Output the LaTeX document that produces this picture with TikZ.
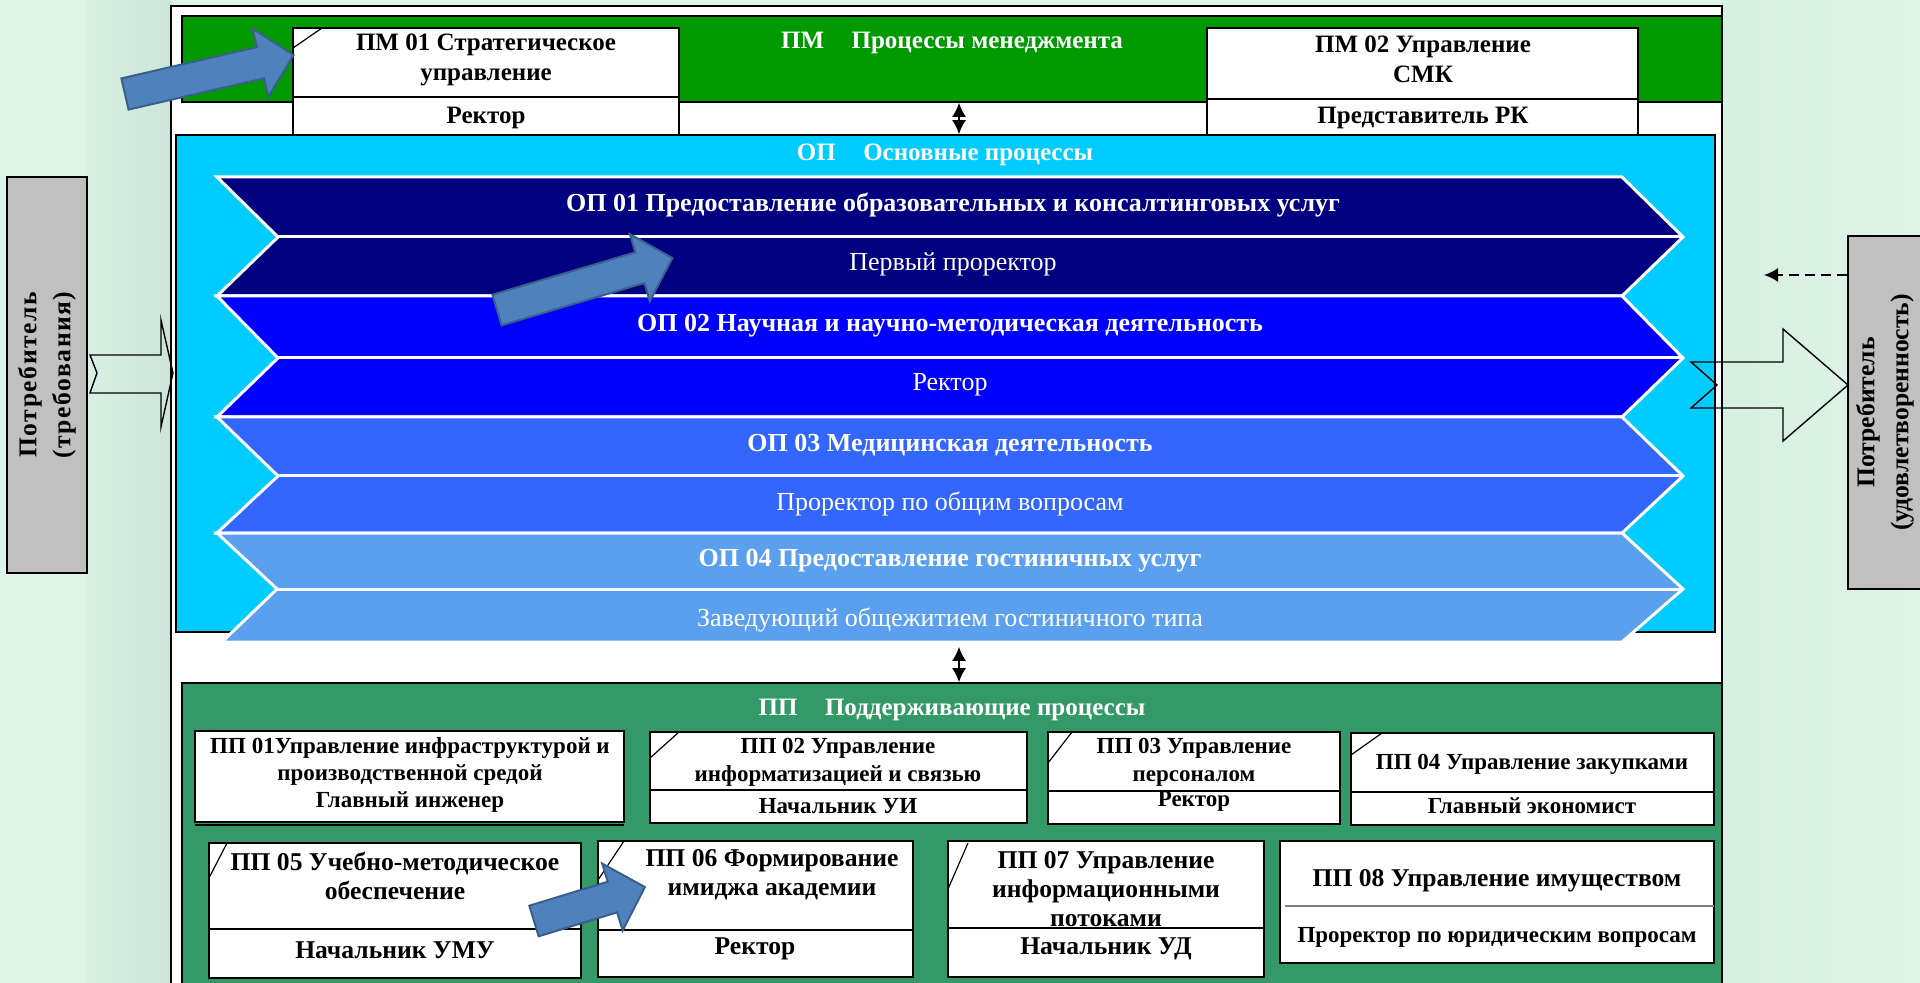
\documentclass[tikz,border=0pt]{standalone}
\usepackage{fontspec}
\setmainfont{Liberation Serif}
\usepackage{tikz}
\usetikzlibrary{arrows.meta}

\definecolor{pmgreen}{HTML}{009900}
\definecolor{ppgreen}{HTML}{339966}
\definecolor{opcyan}{HTML}{00CCFF}
\definecolor{opA}{HTML}{000080}
\definecolor{opB}{HTML}{0000FF}
\definecolor{opC}{HTML}{3366FF}
\definecolor{opD}{HTML}{5B9FEF}
\definecolor{consgray}{HTML}{C0C0C0}
\definecolor{arrblue}{HTML}{4F81BD}
\definecolor{arrdark}{HTML}{3A5F8B}
\definecolor{bgmint}{HTML}{DDF4E6}
\definecolor{bgdark}{HTML}{CBE5D8}

\tikzset{
  box/.style={draw=black, fill=white, line width=0.8pt},
  cornerln/.style={draw=black, line width=0.6pt},
  lbl/.style={font=\bfseries\fontsize{12.5}{15}\selectfont, align=center, inner sep=0pt},
  pplbl/.style={font=\bfseries\fontsize{11.5}{14}\selectfont, align=center, inner sep=0pt},
  ppbig/.style={font=\bfseries\fontsize{12.8}{14.5}\selectfont, align=center, inner sep=0pt},
  hdr/.style={font=\bfseries\fontsize{12.5}{15}\selectfont, text=white, inner sep=0pt},
  chevtitle/.style={font=\bfseries\fontsize{13}{15}\selectfont, text=white, inner sep=0pt},
  chevsub/.style={font=\fontsize{13}{15}\selectfont, text=white, inner sep=0pt},
  chev/.style={draw=white, line width=1.5pt},
  cons/.style={draw=black, fill=consgray, line width=0.9pt, inner sep=0pt,
    font=\bfseries\fontsize{12.8}{17}\selectfont, align=center},
  blockarr/.style={draw=black, line width=0.7pt},
  bluearr/.style={fill=arrblue, draw=arrdark, line width=1pt},
  dbl/.style={{Latex[length=7pt,width=7pt]}-{Latex[length=7pt,width=7pt]}, line width=0.9pt},
  dsh/.style={dashed, dash pattern=on 5pt off 3pt, line width=0.9pt, -{Latex[length=7pt,width=7pt]}}
}

% blue block arrow: tail centre, angle, length
\newcommand{\bluearrow}[3]{%
  \begin{scope}[shift={(#1)}, rotate=#2]
    \draw[bluearr] (0,-16) -- (#3-34,-16) -- (#3-34,-35) -- (#3,0) -- (#3-34,35) -- (#3-34,16) -- (0,16) -- cycle;
  \end{scope}}

\begin{document}
\begin{tikzpicture}[x=0.5pt, y=-0.5pt]
    \useasboundingbox (0,0) rectangle (1920,983);
    % background
    \fill[bgmint] (0,0) rectangle (1920,983);
    \shade[left color=bgmint!80!bgdark, right color=bgdark] (85,0) rectangle (171,983);
    \shade[left color=bgmint!70!bgdark, right color=bgmint] (1722,0) rectangle (1920,983);

    % frame and the three regions
    \draw[line width=0.8pt, fill=white] (171,6) rectangle (1722,1000);
    \node[draw=black, fill=pmgreen, line width=0.8pt, minimum width=770pt, minimum height=43pt, inner sep=0pt] (pm) at (952,59) {};
    \node[draw=black, fill=opcyan, line width=0.8pt, minimum width=769.5pt, minimum height=248.5pt, inner sep=0pt] (op) at (945.5,383.5) {};
    \node[draw=black, fill=ppgreen, line width=0.8pt, minimum width=770pt, minimum height=158.5pt, inner sep=0pt] (pp) at (952,841.5) {};

    \node[hdr] (pmhdr) at (952,43) {ПМ\hspace{1.1em}Процессы менеджмента};
    \node[hdr] (ophdr) at (945,155) {ОП\hspace{1.1em}Основные процессы};
    \node[hdr] (pphdr) at (952,710) {ПП\hspace{1.1em}Поддерживающие процессы};

    % PM boxes
    \draw[box] (293,28) rectangle (679,135);
    \draw[line width=0.8pt] (293,97) -- (679,97);
    \draw[cornerln] (293,48) -- (322,28);
    \node[lbl] (pm01) at (486,60) {ПМ 01 Стратегическое\\управление};
    \node[lbl] (pm01r) at (486,118) {Ректор};

    \draw[box] (1207,28) rectangle (1638,135);
    \draw[line width=0.8pt] (1207,99) -- (1638,99);
    \node[lbl] (pm02) at (1423,59) {ПМ 02 Управление\\СМК};
    \node[lbl] (pm02r) at (1423,118) {Представитель РК};

    \coordinate (lnk) at (959,0);
    \draw[dbl] (pm.south -| lnk) -- (op.north -| lnk);

    % OP chevrons
    \filldraw[chev, fill=opA] (217,177) -- (1622,177) -- (1683,237) -- (1622,296) -- (217,296) -- (278,237) -- cycle;
    \draw[chev] (278,237) -- (1683,237);
    \filldraw[chev, fill=opB] (217,296) -- (1622,296) -- (1683,358) -- (1622,417) -- (217,417) -- (278,358) -- cycle;
    \draw[chev] (278,358) -- (1683,358);
    \filldraw[chev, fill=opC] (217,417) -- (1622,417) -- (1683,476) -- (1622,533) -- (217,533) -- (278,476) -- cycle;
    \draw[chev] (278,476) -- (1683,476);
    \filldraw[chev, fill=opD] (217,533) -- (1622,533) -- (1683,589) -- (1622,642) -- (222,642) -- (277,589) -- cycle;
    \draw[chev] (277,589) -- (1683,589);

    \node[chevtitle] (op01) at (953,205) {ОП 01 Предоставление образовательных и консалтинговых услуг};
    \node[chevsub] (op01p) at (953,264) {Первый проректор};
    \node[chevtitle] (op02) at (950,326) {ОП 02 Научная и научно-методическая деятельность};
    \node[chevsub] (op02p) at (950,385) {Ректор};
    \node[chevtitle] (op03) at (950,445) {ОП 03 Медицинская деятельность};
    \node[chevsub] (op03p) at (950,504) {Проректор по общим вопросам};
    \node[chevtitle] (op04) at (950,561) {ОП 04 Предоставление гостиничных услуг};
    \node[chevsub] (op04p) at (950,620) {Заведующий общежитием гостиничного типа};

    \draw[dbl] ([yshift=-7pt]op.south -| lnk) -- (pp.north -| lnk);

    % PP boxes, first row
    \draw[box] (195,731) rectangle (624,822);
    \draw[line width=0.8pt] (195,825) -- (624,825);
    \node[pplbl, font=\bfseries\fontsize{11.5}{13.3}\selectfont] (pp01) at (410,775) {ПП 01Управление инфраструктурой и\\производственной средой\\Главный инженер};

    \draw[box] (650,732) rectangle (1027,823);
    \draw[line width=0.8pt] (650,790) -- (1027,790);
    \draw[cornerln] (650,758) -- (679,732);
    \node[pplbl] (pp02) at (838,762) {ПП 02 Управление\\информатизацией и связью};
    \node[pplbl] (pp02r) at (838,806) {Начальник УИ};

    \draw[box] (1048,732) rectangle (1340,824);
    \draw[line width=0.8pt] (1048,791) -- (1340,791);
    \draw[cornerln] (1048,763) -- (1072,732);
    \node[pplbl] (pp03) at (1194,762) {ПП 03 Управление\\персоналом};
    \node[pplbl] (pp03r) at (1194,801) {Ректор};

    \draw[box] (1351,733) rectangle (1714,825);
    \draw[line width=0.8pt] (1351,792) -- (1714,792);
    \draw[cornerln] (1351,755) -- (1382,733);
    \node[pplbl] (pp04) at (1532,764) {ПП 04 Управление закупками};
    \node[pplbl] (pp04r) at (1532,806) {Главный экономист};

    % PP boxes, second row
    \draw[box] (209,843) rectangle (581,978);
    \draw[line width=0.8pt] (209,929) -- (581,929);
    \draw[cornerln] (209,878) -- (227,843);
    \node[ppbig] (pp05) at (395,876) {ПП 05 Учебно-методическое\\обеспечение};
    \node[ppbig] (pp05r) at (395,950) {Начальник УМУ};

    \draw[box] (598,841) rectangle (913,977);
    \draw[line width=0.8pt] (598,930) -- (913,930);
    \draw[cornerln] (598,880) -- (624,841);
    \node[ppbig] (pp06) at (772,875) {ПП 06 Формирование\\имиджа академии};
    \node[ppbig] (pp06r) at (755,949) {Ректор};

    \draw[box] (948,841) rectangle (1264,977);
    \draw[line width=0.8pt] (948,928) -- (1264,928);
    \draw[cornerln] (948,889) -- (968,843);
    \node[ppbig] (pp07) at (1106,889) {ПП 07 Управление\\информационными\\потоками};
    \node[ppbig] (pp07r) at (1106,949) {Начальник УД};

    \draw[box] (1280,841) rectangle (1714,963);
    \draw[gray, line width=0.6pt] (1285,906) -- (1714,906);
    \node[ppbig] (pp08) at (1497,881) {ПП 08 Управление имуществом};
    \node[pplbl] (pp08r) at (1497,937) {Проректор по юридическим вопросам};

    % consumers
    \node[cons, minimum width=198pt, minimum height=40pt, rotate=90] (consL) at (47,375) {\addfontfeature{LetterSpace=6}Потребитель\\\addfontfeature{LetterSpace=6}(требования)};
    \node[cons, minimum width=176.5pt, minimum height=37pt, rotate=90] (consR) at (1885,412.5) {Потребитель\\(удовлетворенность)};

    \draw[blockarr] (90,355) -- (161,355) -- (161,320) -- (173,373) -- (161,427) -- (161,393) -- (90,393) -- (97,373) -- cycle;
    \draw[blockarr] (1691,362) -- (1783,362) -- (1783,329) -- (1848,385) -- (1783,441) -- (1783,408) -- (1691,408) -- (1717,385) -- cycle;

    \coordinate (fb) at (1764,275);
    \draw[dsh] (consR.north |- fb) -- (fb);

    % blue arrows
    \bluearrow{125,94}{13}{173}
    \bluearrow{497,310}{16.5}{183}
    \bluearrow{534,921}{17}{116}
\end{tikzpicture}
\end{document}
